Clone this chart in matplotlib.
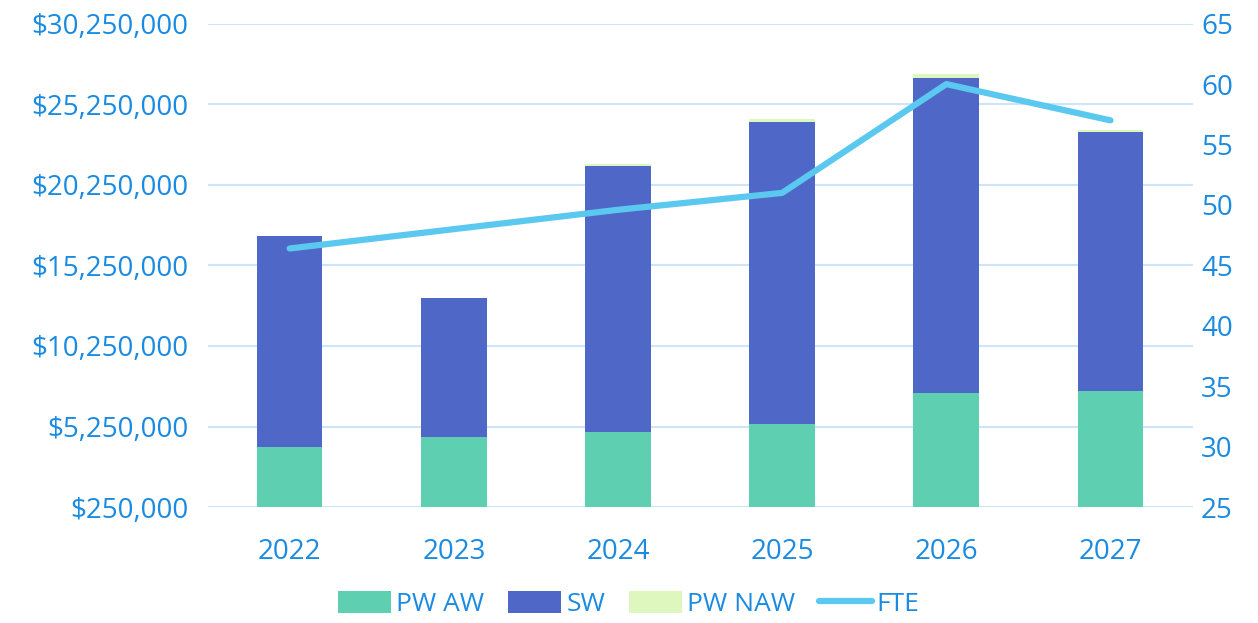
import matplotlib
matplotlib.use("Agg")
import matplotlib.pyplot as plt
import numpy as np
from matplotlib.ticker import FuncFormatter

years = ["2022", "2023", "2024", "2025", "2026", "2027"]
pw_aw = [3980000, 4600000, 4910000, 5410000, 7330000, 7450000]
sw = [13100000, 8630000, 16520000, 18750000, 19570000, 16090000]
pw_naw = [0, 0, 100000, 150000, 200000, 130000]
fte = [46.4, 48.0, 49.6, 51.0, 60.0, 57.0]

text_col = "#1a8be0"
plt.rcParams["font.family"] = ["Open Sans", "DejaVu Sans"]

fig, ax = plt.subplots(figsize=(12.58, 6.23), dpi=100)
fig.subplots_adjust(left=0.165, right=0.948, top=0.962, bottom=0.186)

x = np.arange(len(years))
w = 0.4
bottom2 = np.array(pw_aw)
bottom3 = bottom2 + np.array(sw)
ax.bar(x, pw_aw, w, color="#5ecfb1", label="PW AW", zorder=2)
ax.bar(x, sw, w, bottom=bottom2, color="#4f67c7", label="SW", zorder=2)
ax.bar(x, pw_naw, w, bottom=bottom3, color="#ddf7bf", label="PW NAW", zorder=2)

ax.set_xlim(-0.5, len(years) - 0.5)
ax.set_ylim(250000, 30250000)
ax.set_yticks(np.arange(250000, 30250001, 5000000))
ax.yaxis.set_major_formatter(FuncFormatter(lambda v, p: "${:,.0f}".format(v)))
ax.set_xticks(x)
ax.set_xticklabels(years)
ax.grid(axis="y", color="#cde5f8", linewidth=1.5, zorder=0)
ax.set_axisbelow(True)
for s in ax.spines.values():
    s.set_visible(False)
ax.tick_params(length=0, colors=text_col, labelsize=20)
ax.tick_params(axis="y", pad=14)
ax.tick_params(axis="x", pad=22)

ax2 = ax.twinx()
ax2.plot(x, fte, color="#5bc8f0", linewidth=4.5, solid_capstyle="round", label="FTE", zorder=3)
ax2.set_ylim(25, 65)
ax2.set_yticks(range(25, 66, 5))
for s in ax2.spines.values():
    s.set_visible(False)
ax2.tick_params(length=0, colors=text_col, labelsize=20, pad=6)

h1, l1 = ax.get_legend_handles_labels()
h2, l2 = ax2.get_legend_handles_labels()
leg = fig.legend(h1 + h2, l1 + l2, loc="lower center", ncol=4, frameon=False,
                 fontsize=19, bbox_to_anchor=(0.5, -0.028), handlelength=2.0,
                 handleheight=0.9, columnspacing=0.9, handletextpad=0.2)
for t in leg.get_texts():
    t.set_color(text_col)

fig.savefig("out.png", dpi=100)
